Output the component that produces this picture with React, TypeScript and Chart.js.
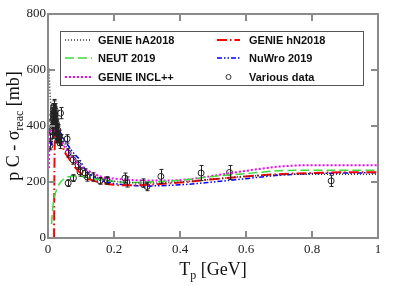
import React, { useEffect, useRef } from "react";
import { Chart, registerables } from "chart.js";

Chart.register(...registerables);

// ---- Data ----
const hA_T = [0.003, 0.006, 0.009, 0.012, 0.02, 0.03, 0.05, 0.07, 0.1, 0.13, 0.16, 0.2, 0.3, 0.4, 0.5, 0.6, 0.7, 0.8, 0.9, 1.0];
const hA_S = [605, 520, 470, 450, 440, 400, 340, 295, 250, 225, 212, 203, 196, 200, 210, 220, 226, 228, 228, 228];

const neut_T = [0.011, 0.013, 0.015, 0.018, 0.021, 0.027, 0.036, 0.05, 0.067, 0.09, 0.12, 0.15, 0.2, 0.25, 0.3, 0.4, 0.5, 0.6, 0.7, 0.8, 0.9, 1.0];
const neut_S = [50, 90, 115, 140, 155, 175, 196, 212, 220, 221, 216, 210, 202, 198, 200, 206, 220, 230, 240, 242, 242, 242];

const incl_T = [0.003, 0.004, 0.006, 0.01, 0.02, 0.03, 0.04, 0.06, 0.08, 0.1, 0.13, 0.16, 0.2, 0.26, 0.3, 0.35, 0.43, 0.5, 0.6, 0.7, 0.8, 0.9, 1.0];
const incl_S = [250, 330, 370, 385, 385, 370, 345, 310, 280, 255, 235, 220, 212, 207, 205, 205, 210, 222, 240, 255, 260, 260, 260];

const hN_T = [0.0185, 0.019, 0.02, 0.022, 0.025, 0.03, 0.04, 0.05, 0.06, 0.08, 0.1, 0.12, 0.15, 0.2, 0.25, 0.3, 0.4, 0.5, 0.6, 0.7, 0.8, 0.9, 1.0];
const hN_S = [0, 150, 300, 380, 400, 380, 340, 310, 290, 255, 230, 213, 200, 190, 188, 190, 198, 210, 220, 228, 232, 235, 235];

const nuwro_T = [0.01, 0.02, 0.03, 0.05, 0.067, 0.08, 0.097, 0.11, 0.13, 0.15, 0.2, 0.25, 0.3, 0.4, 0.5, 0.6, 0.7, 0.8, 0.9, 1.0];
const nuwro_S = [330, 400, 390, 350, 320, 300, 278, 250, 225, 210, 195, 188, 186, 190, 200, 212, 224, 230, 232, 233];

const data_T = [0.006, 0.007, 0.012, 0.013, 0.014, 0.015, 0.015, 0.016, 0.016, 0.017, 0.017, 0.018, 0.018, 0.019, 0.019, 0.02, 0.02, 0.021, 0.021, 0.022, 0.022, 0.023, 0.023, 0.024, 0.025, 0.025, 0.026, 0.027, 0.028, 0.03, 0.03, 0.032, 0.034, 0.036, 0.038, 0.04, 0.058, 0.061, 0.061, 0.076, 0.077, 0.091, 0.097, 0.112, 0.119, 0.135, 0.158, 0.178, 0.18, 0.233, 0.239, 0.288, 0.3, 0.342, 0.464, 0.55, 0.858];
const data_S = [330, 360, 395, 380, 420, 440, 400, 455, 425, 465, 440, 470, 445, 450, 420, 440, 415, 430, 395, 400, 455, 420, 375, 390, 410, 365, 380, 400, 370, 385, 360, 350, 365, 340, 446, 350, 354, 304, 196, 279, 214, 261, 236, 232, 218, 218, 204, 207, 204, 214, 200, 196, 184, 220, 232, 234, 204];
const data_E = [15, 15, 25, 25, 25, 25, 25, 25, 25, 25, 25, 25, 25, 25, 25, 25, 25, 25, 25, 25, 25, 25, 25, 25, 25, 25, 25, 25, 25, 20, 20, 20, 20, 20, 20, 20, 15, 15, 12, 15, 12, 15, 15, 15, 15, 15, 12, 12, 12, 18, 18, 15, 15, 25, 27, 25, 20];

const xTicks = [0, 0.2, 0.4, 0.6, 0.8, 1];
const yTicks = [0, 200, 400, 600, 800];

const pts = (T: number[], S: number[]) => T.map((t, i) => ({ x: t, y: S[i] }));

export default function App() {
  const ref = useRef<HTMLCanvasElement>(null);
  useEffect(() => {
    const canvas = ref.current!;
    const serif = "'Liberation Serif', 'DejaVu Serif', serif";
    const sans = "'Liberation Sans', Arial, sans-serif";

    const framePlugin = {
      id: "frame",
      afterDraw(chart: any) {
        const { ctx, chartArea: a, scales } = chart;
        const xs = scales.x, ys = scales.y;
        ctx.save();
        // error bars
        ctx.strokeStyle = "#222";
        ctx.lineWidth = 1;
        data_T.forEach((t, i) => {
          const px = Math.round(xs.getPixelForValue(t)) + 0.5;
          const y1 = ys.getPixelForValue(data_S[i] - data_E[i]);
          const y2 = ys.getPixelForValue(data_S[i] + data_E[i]);
          ctx.beginPath();
          ctx.moveTo(px, y1); ctx.lineTo(px, y2);
          ctx.moveTo(px - 2, y1); ctx.lineTo(px + 2, y1);
          ctx.moveTo(px - 2, y2); ctx.lineTo(px + 2, y2);
          ctx.stroke();
        });
        // frame
        ctx.strokeStyle = "#8a8a8a";
        ctx.lineWidth = 2;
        ctx.strokeRect(a.left, a.top, a.right - a.left, a.bottom - a.top);
        const tl = 7;
        ctx.beginPath();
        xTicks.forEach((v) => {
          const px = xs.getPixelForValue(v);
          ctx.moveTo(px, a.bottom); ctx.lineTo(px, a.bottom - tl);
          ctx.moveTo(px, a.top); ctx.lineTo(px, a.top + tl);
        });
        yTicks.forEach((v) => {
          const py = ys.getPixelForValue(v);
          ctx.moveTo(a.left, py); ctx.lineTo(a.left + tl, py);
          ctx.moveTo(a.right, py); ctx.lineTo(a.right - tl, py);
        });
        ctx.stroke();

        // axis titles
        ctx.fillStyle = "#111";
        ctx.textBaseline = "alphabetic";
        const big = 18, small = 12;
        ctx.font = `${big}px ${serif}`;
        const wT = ctx.measureText("T").width;
        const wRest = ctx.measureText(" [GeV]").width;
        ctx.font = `${small}px ${serif}`;
        const wp = ctx.measureText("p").width;
        const total = wT + wp + wRest;
        const x0 = (a.left + a.right) / 2 - total / 2;
        const by = 275;
        ctx.font = `${big}px ${serif}`;
        ctx.textAlign = "left";
        ctx.fillText("T", x0, by);
        ctx.font = `${small}px ${serif}`;
        ctx.fillText("p", x0 + wT, by + 4);
        ctx.font = `${big}px ${serif}`;
        ctx.fillText(" [GeV]", x0 + wT + wp, by);

        ctx.save();
        ctx.translate(19, (a.top + a.bottom) / 2);
        ctx.rotate(-Math.PI / 2);
        ctx.font = `${big}px ${serif}`;
        const w1 = ctx.measureText("p C - σ").width;
        const w3 = ctx.measureText(" [mb]").width;
        ctx.font = `${small}px ${serif}`;
        const w2 = ctx.measureText("reac").width;
        const yx = -(w1 + w2 + w3) / 2;
        ctx.font = `${big}px ${serif}`;
        ctx.fillText("p C - σ", yx, 0);
        ctx.font = `${small}px ${serif}`;
        ctx.fillText("reac", yx + w1, 4);
        ctx.font = `${big}px ${serif}`;
        ctx.fillText(" [mb]", yx + w1 + w2, 0);
        ctx.restore();

        // legend
        const bx = 60, bt = 31, bw = 303, bh = 54;
        ctx.fillStyle = "#fff";
        ctx.fillRect(bx, bt, bw, bh);
        ctx.strokeStyle = "#555";
        ctx.lineWidth = 1;
        ctx.strokeRect(bx + 0.5, bt + 0.5, bw, bh);
        const rows = [40, 58, 77];
        const cols = [
          { s0: 65, s1: 92, tx: 98 },
          { s0: 217, s1: 240, tx: 249 },
        ];
        ctx.font = `bold 11px ${sans}`;
        ctx.textBaseline = "middle";
        [0, 1, 2, 3, 4, 5].forEach((di, k) => {
          const ds = chart.data.datasets[di];
          const col = cols[Math.floor(k / 3)];
          const ry = rows[k % 3];
          if (di === 5) {
            ctx.strokeStyle = "#333";
            ctx.lineWidth = 1;
            ctx.setLineDash([]);
            ctx.beginPath();
            ctx.arc((col.s0 + col.s1) / 2, ry, 2.5, 0, Math.PI * 2);
            ctx.stroke();
          } else {
            ctx.strokeStyle = ds.borderColor;
            ctx.lineWidth = ds.borderWidth;
            ctx.setLineDash(ds.borderDash || []);
            ctx.beginPath();
            ctx.moveTo(col.s0, ry);
            ctx.lineTo(col.s1, ry);
            ctx.stroke();
          }
          ctx.setLineDash([]);
          ctx.fillStyle = "#111";
          ctx.fillText(ds.label, col.tx, ry + 0.5);
        });
        ctx.restore();
      },
    };

    const lineDs = (label: string, T: number[], S: number[], color: string, dash: number[], w: number) => ({
      type: "line" as const,
      label,
      data: pts(T, S),
      borderColor: color,
      borderDash: dash,
      borderWidth: w,
      pointRadius: 0,
      fill: false,
      cubicInterpolationMode: "monotone" as const,
    });

    const chart = new Chart(canvas, {
      type: "scatter",
      data: {
        datasets: [
          lineDs("GENIE hA2018", hA_T, hA_S, "#333333", [1, 2], 1.5),
          lineDs("NEUT 2019", neut_T, neut_S, "#3ddc3d", [9, 4], 1.5),
          lineDs("GENIE INCL++", incl_T, incl_S, "#ff00ff", [2, 2], 2),
          lineDs("GENIE hN2018", hN_T, hN_S, "#ff0000", [10, 3, 1.5, 3], 2),
          lineDs("NuWro 2019", nuwro_T, nuwro_S, "#0000ff", [5, 2, 1.5, 2, 1.5, 2], 1.5),
          {
            type: "scatter" as const,
            label: "Various data",
            data: pts(data_T, data_S),
            showLine: false,
            pointRadius: 3,
            pointBorderWidth: 1,
            borderColor: "#222",
            backgroundColor: "rgba(0,0,0,0)",
            pointBackgroundColor: "rgba(0,0,0,0)",
            pointBorderColor: "#222",
          } as any,
        ],
      },
      options: {
        responsive: false,
        animation: false,
        devicePixelRatio: 1,
        layout: { padding: { top: 14, right: 21, left: 0, bottom: 0 } },
        plugins: { legend: { display: false }, tooltip: { enabled: false } },
        scales: {
          x: {
            type: "linear",
            min: 0,
            max: 1,
            afterFit: (s: any) => { s.height = 48; },
            afterBuildTicks: (s: any) => { s.ticks = xTicks.map((v) => ({ value: v })); },
            grid: { display: false, drawTicks: false },
            border: { display: false },
            ticks: {
              padding: 4,
              color: "#222",
              font: { family: serif, size: 13 },
              callback: (v: any) => String(v),
            },
          },
          y: {
            type: "linear",
            min: 0,
            max: 800,
            afterFit: (s: any) => { s.width = 48; },
            afterBuildTicks: (s: any) => { s.ticks = yTicks.map((v) => ({ value: v })); },
            grid: { display: false, drawTicks: false },
            border: { display: false },
            ticks: {
              padding: 2,
              color: "#222",
              font: { family: serif, size: 13 },
              callback: (v: any) => String(v),
            },
          },
        },
      },
      plugins: [framePlugin],
    });
    return () => chart.destroy();
  }, []);

  return (
    <div style={{ position: "fixed", left: 0, top: 0, width: 399, height: 286, background: "#fff" }}>
      <canvas ref={ref} width={399} height={286} style={{ width: 399, height: 286, display: "block" }} />
    </div>
  );
}
